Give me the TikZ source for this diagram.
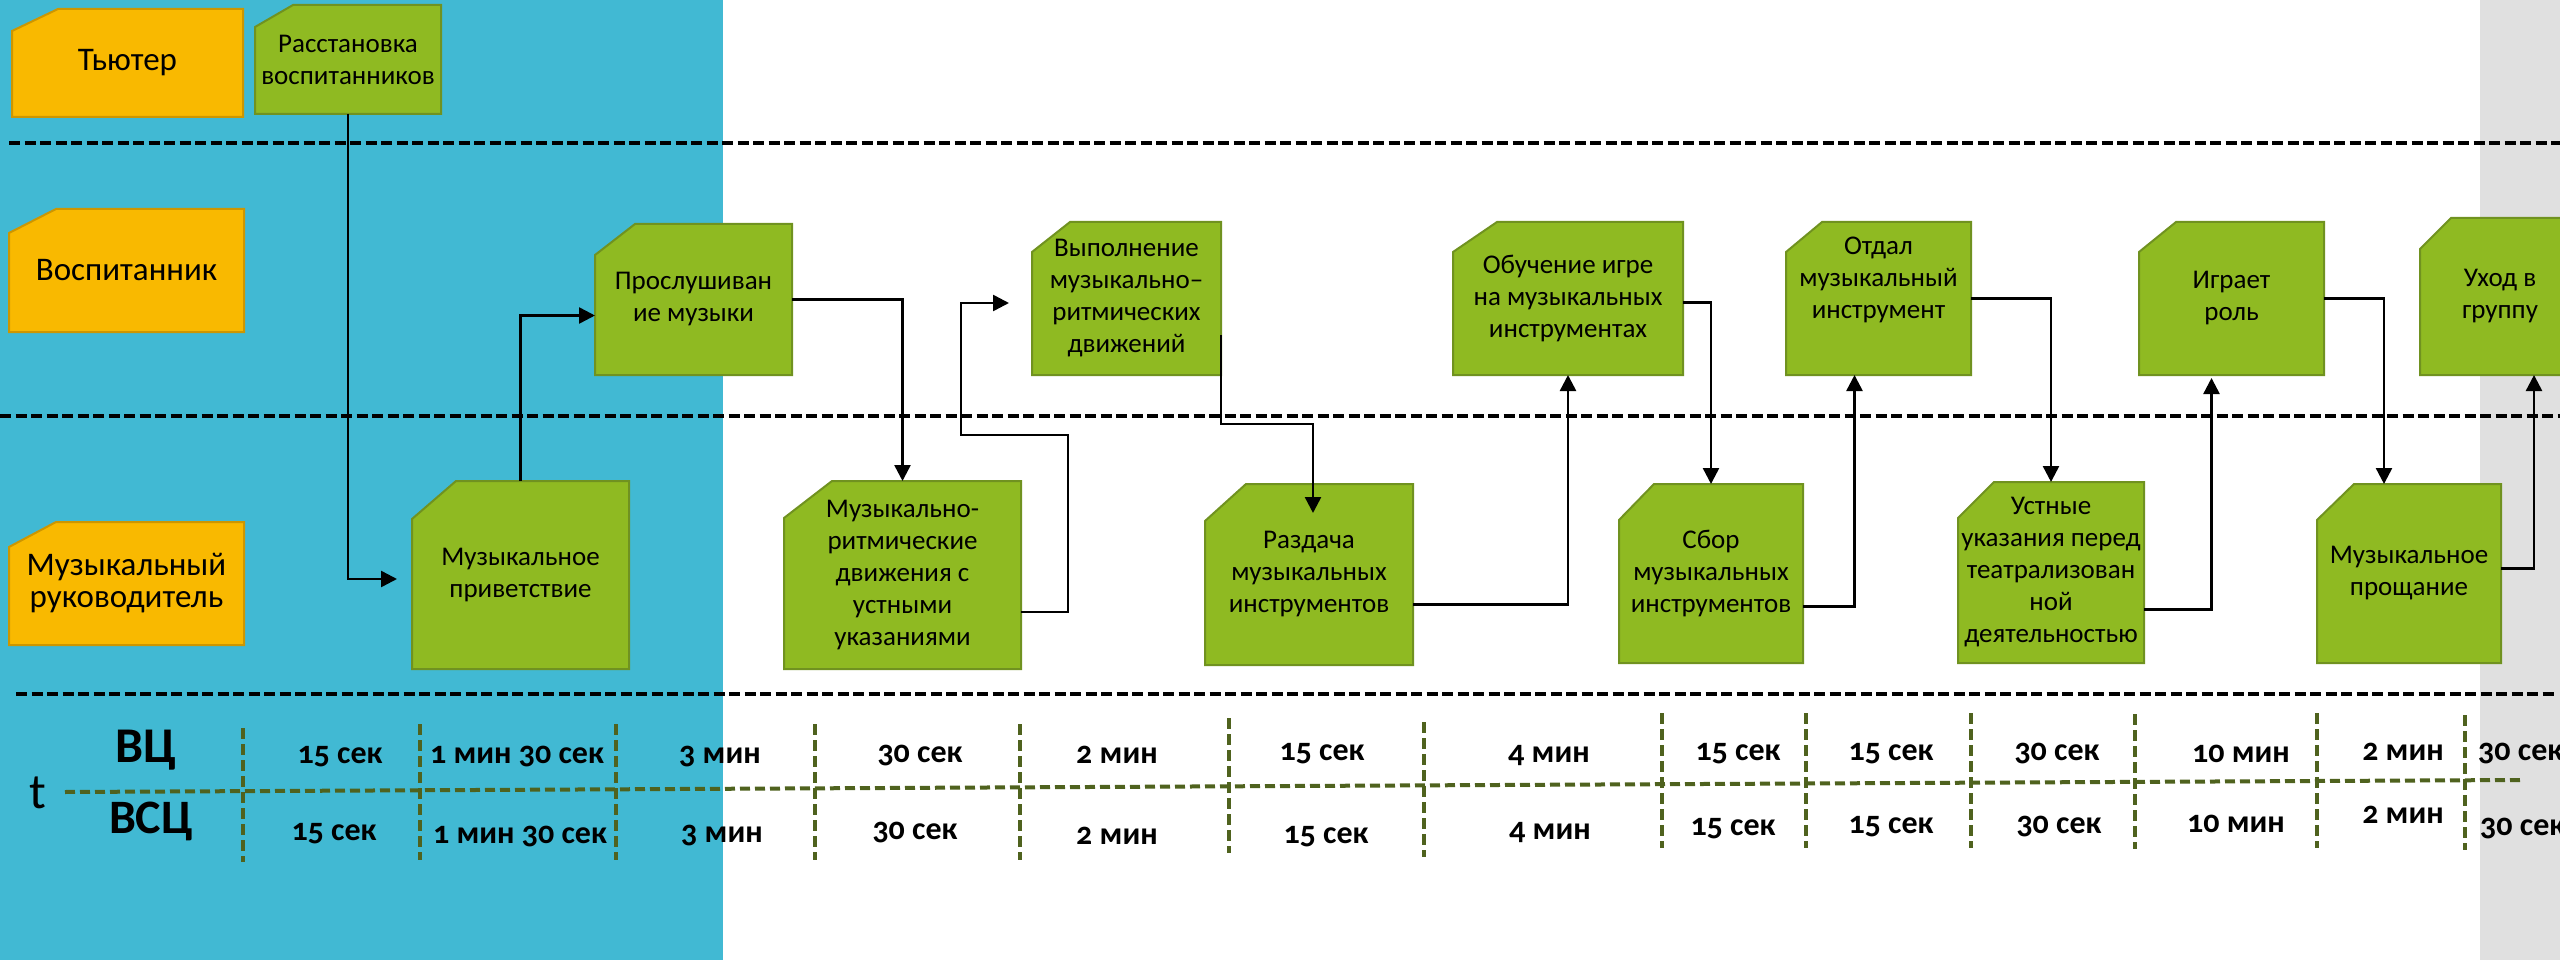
\documentclass[tikz,border=0pt]{standalone}
\usepackage{fontspec}
\setmainfont{Carlito}[Numbers=OldStyle]
\usetikzlibrary{arrows.meta,calc}
\definecolor{bgcyan}{RGB}{65,185,211}
\definecolor{bggray}{RGB}{224,224,224}
\definecolor{gfill}{RGB}{143,186,34}
\definecolor{gline}{RGB}{112,146,32}
\definecolor{ofill}{RGB}{249,185,0}
\definecolor{oline}{RGB}{205,150,0}
\definecolor{olivedark}{RGB}{79,98,30}
% #1 style, #2 name, #3 x1, #4 y1, #5 x2, #6 y2, #7 cut x, #8 cut y, #9 text
\newcommand\cbox[9]{%
  \path[#1] (#3,#6) -- (#3,#4+#8) -- (#3+#7,#4) -- (#5,#4) -- (#5,#6) -- cycle;
  \node[boxnode, minimum width=#5pt-#3pt, minimum height=#6pt-#4pt] (#2) at ({(#3+#5)/2},{(#4+#6)/2}) {#9};
}
\tikzset{
  gshape/.style={fill=gfill, draw=gline, line width=2pt},
  oshape/.style={fill=ofill, draw=oline, line width=2pt},
  boxnode/.style={inner sep=0pt, outer sep=0pt, align=center, font=\fontsize{27}{32}\selectfont},
  conn/.style={line width=2.5pt, -{Triangle[length=16pt,width=16pt]}},
  laneline/.style={line width=4pt, dash pattern=on 11pt off 4.5pt},
  tline/.style={olivedark, line width=4pt, dash pattern=on 10pt off 5pt},
  vline/.style={olivedark, line width=3.5pt, dash pattern=on 11pt off 5pt},
  tlabel/.style={anchor=base, inner sep=0pt, font=\fontsize{32}{38}\selectfont\bfseries},
}
\begin{document}
\begin{tikzpicture}[x=1pt, y=-1pt]
\useasboundingbox (0,0) rectangle (2560,960);
\begin{scope}
\clip (0,0) rectangle (2560,960);
% backgrounds
\fill[white] (0,0) rectangle (2560,960);
\fill[bgcyan] (0,0) rectangle (723,960);
\fill[bggray] (2480,0) rectangle (2560,960);
% lane separators
\draw[laneline] (9,143) -- (2560,143);
\draw[laneline] (0,416) -- (2560,416);
\draw[laneline] (16,694) -- (2555,694);
% role boxes
\cbox{oshape}{tut}{12}{9}{243}{117}{46}{22}{\fontsize{33}{38}\selectfont Тьютер}
\cbox{oshape}{vos}{9}{209}{244}{332}{47}{24}{\fontsize{33}{38}\selectfont Воспитанник}
\cbox{oshape}{ruk}{9}{522}{244}{645}{47}{25}{\fontsize{33}{38}\selectfont Музыкальный\\\fontsize{33}{38}\selectfont руководитель}
% activity boxes
\cbox{gshape}{ras}{255}{5}{441}{114}{38}{22}{Расстановка\\воспитанников}
\cbox{gshape}{prosl}{595}{224}{792}{375}{40}{31}{Прослушиван\\ие музыки}
\cbox{gshape}{priv}{412}{481}{629}{669}{44}{38}{Музыкальное\\приветствие}
\cbox{gshape}{mrd}{784}{481}{1021}{669}{48}{37}{Музыкально-\\ритмические\\движения с\\устными\\указаниями}
\cbox{gshape}{vyp}{1032}{222}{1221}{375}{38}{30}{Выполнение\\музыкально–\\ритмических\\движений}
\cbox{gshape}{raz}{1205}{484}{1413}{665}{41}{37}{Раздача\\музыкальных\\инструментов}
\cbox{gshape}{obu}{1453}{222}{1683}{375}{44}{30}{Обучение игре\\на музыкальных\\инструментах}
\cbox{gshape}{sbor}{1619}{484}{1803}{663}{35}{36}{Сбор\\музыкальных\\инструментов}
\cbox{gshape}{otd}{1786}{222}{1971}{375}{36}{30}{Отдал\\музыкальный\\инструмент\\[10pt]}
\cbox{gshape}{ust}{1958}{482}{2144}{663}{36}{36}{Устные\\указания перед\\театрализован\\ной\\деятельностью}
\cbox{gshape}{igr}{2139}{222}{2324}{375}{37}{30}{Играет\\роль}
\cbox{gshape}{pro}{2317}{484}{2501}{663}{37}{36}{Музыкальное\\прощание}
\cbox{gshape}{ukh}{2420}{218}{2580}{375}{31}{31}{Уход в\\группу}
% connectors
\draw[conn] (ras.south) |- ($(priv.west)+(-15,4)$);
\draw[conn] (priv.north) |- ($(prosl.west)+(0,16)$);
\draw[conn] (prosl.east) -| (mrd.north);
\draw[conn] ($(mrd.south east)+(0,-57)$) -| ++(47,-177) -- ++(-107,0) |- ($(vyp.west)+(-23,4.5)$);
\draw[conn] ($(vyp.south east)+(0,-40)$) -- ++(0,89) -| ($(raz.north)+(4,29)$);
\draw[conn] ($(raz.east)+(0,30)$) -| (obu.south);
\draw[conn] ($(obu.east)+(0,4)$) -| (sbor.north);
\draw[conn] ($(sbor.east)+(0,33)$) -| ($(otd.south)+(-24,0)$);
\draw[conn] (otd.east) -| (ust.north);
\draw[conn] ($(ust.east)+(0,37)$) -| ($(igr.south)+(-20,3)$);
\draw[conn] (igr.east) -| ($(pro.north)+(-25,0)$);
\draw[conn] ($(pro.east)+(0,-5)$) -| ($(ukh.south)+(34,0)$);
% timeline
\draw[tline] (65,792) -- (2521,780);
\foreach \x/\a/\b in {243/728/862, 420/724/860, 616/724/860, 815/724/860, 1020/724/860,
  1229/718/853, 1424/722/857, 1662/713/848, 1806/713/848, 1971/713/848, 2135/714/849,
  2317/713/848, 2465/715/850}
  \draw[vline] (\x,\a) -- (\x,\b);
\node[anchor=base, inner sep=0pt, font=\fontsize{50}{56}\selectfont\bfseries] (vc) at (146,762) {ВЦ};
\node[anchor=base, inner sep=0pt, font=\fontsize{48}{54}\selectfont\bfseries] (vsc) at (151,833) {ВСЦ};
\node[anchor=base, inner sep=0pt, font=\fontsize{50}{56}\selectfont] (tt) at (38,808) {t};
\foreach \x/\y/\t [count=\i] in {340/763/15 сек, 517/763/1 мин 30 сек, 720/763/3 мин,
  920/762/30 сек, 1117/763/2 мин, 1322/760/15 сек, 1549/762/4 мин, 1738/760/15 сек,
  1891/760/15 сек, 2057/760/30 сек, 2241/762/10 мин, 2403/760/2 мин}
  \node[tlabel] (top\i) at (\x,\y) {\t};
\node[tlabel, anchor=base west] (top13) at (2478,760) {30 сек};
\foreach \x/\y/\t [count=\i] in {334/840/15 сек, 520/843/1 мин 30 сек, 722/842/3 мин,
  915/839/30 сек, 1117/844/2 мин, 1326/843/15 сек, 1550/839/4 мин, 1733/835/15 сек,
  1891/833/15 сек, 2059/833/30 сек, 2236/832/10 мин, 2403/823/2 мин}
  \node[tlabel] (bot\i) at (\x,\y) {\t};
\node[tlabel, anchor=base west] (bot13) at (2480,835) {30 сек};
\end{scope}
\end{tikzpicture}
\end{document}
